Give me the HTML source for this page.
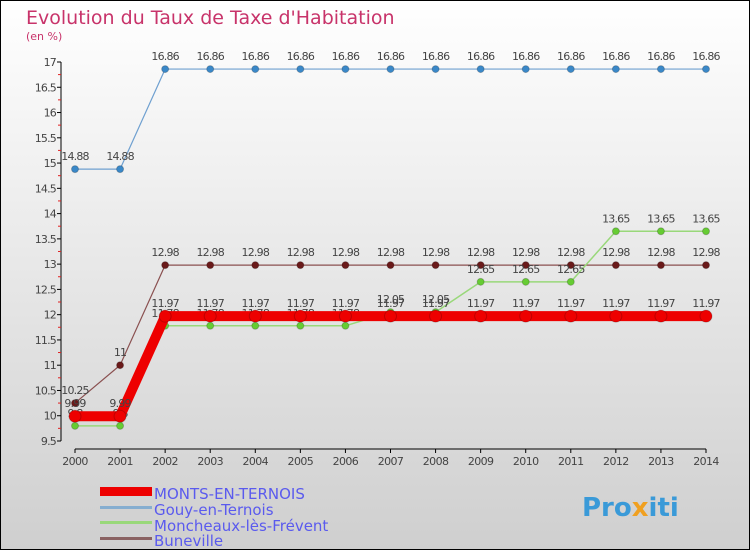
<!DOCTYPE html>
<html><head><meta charset="utf-8"><style>
body{margin:0}
svg{display:block;font-family:"DejaVu Sans","Liberation Sans",sans-serif}
</style></head><body>
<svg width="750" height="550" viewBox="0 0 750 550">
<defs><linearGradient id="bg" x1="0" y1="0" x2="0" y2="1"><stop offset="0" stop-color="#ffffff"/><stop offset="1" stop-color="#cfcfcf"/></linearGradient></defs>
<rect x="0.5" y="0.5" width="749" height="549" fill="url(#bg)" stroke="#000"/>
<text x="26" y="24" font-size="19" fill="#c8336a">Evolution du Taux de Taxe d'Habitation</text>
<text x="26" y="40" font-size="11" fill="#c8336a">(en %)</text>
<g id="axes"></g>
<g id="series"></g>
<g>
<rect x="100" y="487" width="52" height="9" fill="#ee0000"/>
<text x="154" y="499" font-size="15" fill="#5a5aee">MONTS-EN-TERNOIS</text>
<rect x="100" y="506" width="52" height="3" fill="#86aed0"/>
<text x="154" y="515" font-size="15" fill="#5a5aee">Gouy-en-Ternois</text>
<rect x="100" y="521" width="52" height="3" fill="#99d87a"/>
<text x="154" y="531" font-size="15" fill="#5a5aee">Moncheaux-lès-Frévent</text>
<rect x="100" y="537" width="52" height="3" fill="#8a6262"/>
<text x="154" y="546" font-size="15" fill="#5a5aee">Buneville</text>
</g>
<text x="582" y="516" font-size="26" font-weight="bold" fill="#3a9ad8">Pro<tspan fill="#f0a020">x</tspan>iti</text>
</svg>
<script>
const years=[2000,2001,2002,2003,2004,2005,2006,2007,2008,2009,2010,2011,2012,2013,2014];
const yTicks=[9.5,10,10.5,11,11.5,12,12.5,13,13.5,14,14.5,15,15.5,16,16.5,17];
const monts=[9.99,9.99,11.97,11.97,11.97,11.97,11.97,11.97,11.97,11.97,11.97,11.97,11.97,11.97,11.97];
const gouy=[14.88,14.88,16.86,16.86,16.86,16.86,16.86,16.86,16.86,16.86,16.86,16.86,16.86,16.86,16.86];
const moncheaux=[9.8,9.8,11.78,11.78,11.78,11.78,11.78,12.05,12.05,12.65,12.65,12.65,13.65,13.65,13.65];
const buneville=[10.25,11,12.98,12.98,12.98,12.98,12.98,12.98,12.98,12.98,12.98,12.98,12.98,12.98,12.98];
const NS="http://www.w3.org/2000/svg";
const xs=i=>75+i*(706-75)/14;
const ys=v=>441-(v-9.5)*(441-62)/7.5;
function mk(tag,attrs,parent,txt){const e=document.createElementNS(NS,tag);for(const k in attrs)e.setAttribute(k,attrs[k]);if(txt!==undefined)e.textContent=txt;parent.appendChild(e);return e;}
const ax=document.getElementById('axes');
let yl=mk('line',{x1:61,y1:62,x2:61,y2:441,stroke:'#000'},ax);


let xl=mk('line',{x1:75,y1:449,x2:706,y2:449,stroke:'#000'},ax);


yTicks.forEach(t=>{const y=ys(t);
 mk('line',{x1:57,y1:y,x2:61,y2:y,stroke:'#000'},ax);
 mk('line',{x1:58,y1:y+12.6,x2:61,y2:y+12.6,stroke:t>9.5?'#e02020':'none'},ax);
 const tx=mk('text',{x:56,y:y+4,'font-size':11,'text-anchor':'end',fill:'#444','letter-spacing':'-0.8'},ax,String(t));
 
 
});
years.forEach((yr,i)=>{const x=xs(i);
 mk('line',{x1:x,y1:449,x2:x,y2:453,stroke:'#000'},ax);
 const tx=mk('text',{x:x,y:465,'font-size':11,'text-anchor':'middle',fill:'#444','letter-spacing':'-0.6'},ax,String(yr));
 
 
});
const sg=document.getElementById('series');
function series(name,data,color,w,r,dot,lblColor){
 const g=mk('g',{},sg);
 
 
 mk('polyline',{points:data.map((v,i)=>xs(i)+','+ys(v)).join(' '),fill:'none',stroke:color,'stroke-width':w},g);
 data.forEach((v,i)=>{
  const c=mk('circle',{cx:xs(i),cy:ys(v),r:r,fill:dot,stroke:'rgba(0,0,0,0.2)'},g);
  
  
  mk('text',{x:xs(i),y:ys(v)-9,'font-size':11,'text-anchor':'middle',fill:'#444','letter-spacing':'-0.8'},g,String(v));
 });
}
series('buneville',buneville,'#8a5050',1.2,3.5,'#6a1a1a');
series('moncheaux',moncheaux,'#99d87a',1.5,3.5,'#66cc33');
series('monts',monts,'#ee0000',10,6,'#ee0000');
series('gouy',gouy,'#6fa0d0',1.2,3.5,'#3a88c8');
</script>
</body></html>
